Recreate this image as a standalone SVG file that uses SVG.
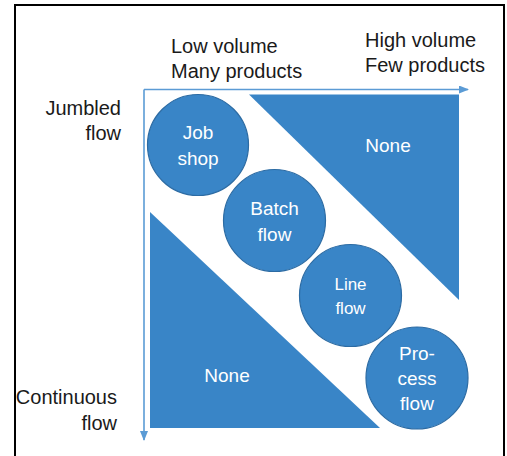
<svg xmlns="http://www.w3.org/2000/svg" width="507" height="456" viewBox="0 0 507 456">
<style>
.lbl{font-family:"Liberation Sans","Noto Sans",Arial,sans-serif;font-size:20px;fill:#1a1a1a}
.in{font-family:"Liberation Sans","Noto Sans",Arial,sans-serif;font-size:19px;fill:#ffffff;text-anchor:middle}
.shape{fill:#3985C7}
.circ{fill:#3985C7;stroke:#2C6BA3;stroke-width:1.2}
.axis{stroke:#5B9BD5;stroke-width:1.6;fill:none}
</style>
<defs>
<marker id="ah" markerWidth="10" markerHeight="8" refX="9" refY="4" orient="auto" markerUnits="userSpaceOnUse">
<path d="M0,0 L10,4 L0,8 Z" fill="#5B9BD5"/>
</marker>
</defs>
<rect x="15" y="5" width="489" height="460" fill="#ffffff" stroke="#000000" stroke-width="2"/>
<g id="connectors">
<path class="axis" d="M144,89.5 H468" marker-end="url(#ah)"/>
<path class="axis" d="M144,89.5 V440" marker-end="url(#ah)"/>
</g>
<g id="labels">
<text class="lbl" x="171" y="53">Low volume</text>
<text class="lbl" x="171" y="78">Many products</text>
<text class="lbl" x="365" y="47">High volume</text>
<text class="lbl" x="365" y="72">Few products</text>
<text class="lbl" x="121" y="115" text-anchor="end">Jumbled</text>
<text class="lbl" x="121" y="140" text-anchor="end">flow</text>
<text class="lbl" x="117" y="404" text-anchor="end">Continuous</text>
<text class="lbl" x="117" y="430" text-anchor="end">flow</text>
</g>
<g id="none-upper">
<polygon class="shape" points="249,94.5 459,94.5 459,300"/>
<text class="in" x="388" y="152">None</text>
</g>
<g id="none-lower">
<polygon class="shape" points="150,212 150,428 380,428"/>
<text class="in" x="227" y="382">None</text>
</g>
<g id="job-shop">
<circle class="circ" cx="198" cy="145" r="50.5"/>
<text class="in" x="198" y="139">Job</text>
<text class="in" x="198" y="165">shop</text>
</g>
<g id="batch-flow">
<circle class="circ" cx="274.5" cy="220.5" r="51"/>
<text class="in" x="274.5" y="215">Batch</text>
<text class="in" x="274.5" y="241">flow</text>
</g>
<g id="line-flow">
<circle class="circ" cx="350.5" cy="295.5" r="51"/>
<text class="in" x="350.5" y="290" style="font-size:17px">Line</text>
<text class="in" x="350.5" y="314" style="font-size:17px">flow</text>
</g>
<g id="process-flow">
<circle class="circ" cx="417" cy="378" r="51"/>
<text class="in" x="417" y="360">Pro-</text>
<text class="in" x="417" y="385">cess</text>
<text class="in" x="417" y="410">flow</text>
</g>
</svg>
